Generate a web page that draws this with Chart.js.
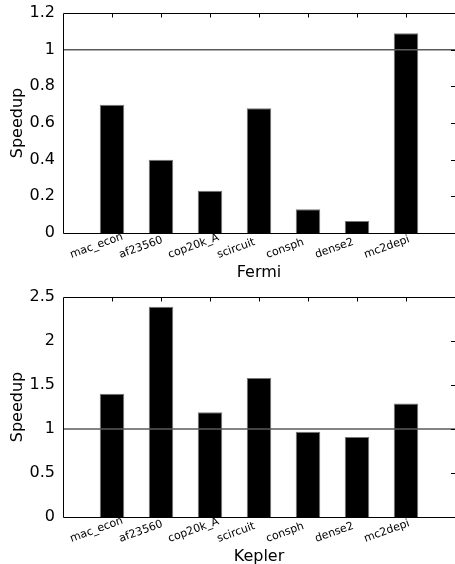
<!DOCTYPE html>
<html>
<head>
<meta charset="utf-8">
<script src="https://cdn.jsdelivr.net/npm/chart.js@4.4.1/dist/chart.umd.min.js"></script>
<style>
  html, body { margin: 0; padding: 0; background: #fff; overflow: hidden; width: 455px; height: 564px; }
  canvas { position: absolute; left: 0; display: block; }
  #c1 { top: 0; }
  #c2 { top: 282px; }
</style>
</head>
<body>
<canvas id="c1" width="455" height="282"></canvas>
<canvas id="c2" width="455" height="282"></canvas>
<script>
// ---- data ----
const categories = ['mac_econ', 'af23560', 'cop20k_A', 'scircuit', 'consph', 'dense2', 'mc2depi'];
const fermiSpeedup = [0.70, 0.40, 0.23, 0.68, 0.13, 0.065, 1.09];
const keplerSpeedup = [1.40, 2.39, 1.19, 1.58, 0.97, 0.91, 1.29];
const fermiYTicks = [0, 0.2, 0.4, 0.6, 0.8, 1, 1.2];
const keplerYTicks = [0, 0.5, 1, 1.5, 2, 2.5];
const referenceSpeedup = 1;
const yTitle = 'Speedup';
const fermiTitle = 'Fermi';
const keplerTitle = 'Kepler';

Chart.defaults.font.family = "'DejaVu Sans', sans-serif";
Chart.defaults.color = '#000';

// one empty slot on each side so the axis spans one category width beyond the bars
const paddedLabels = [''].concat(categories, ['']);

const framePlugin = {
  id: 'framePlugin',
  afterDatasetsDraw(chart, args, opts) {
    const ctx = chart.ctx;
    const a = chart.chartArea;
    const xs = chart.scales.x, ys = chart.scales.y;
    ctx.save();
    // reference line
    const yr = ys.getPixelForValue(opts.ref);
    ctx.strokeStyle = '#5a5a5a';
    ctx.lineWidth = 1.5;
    ctx.beginPath();
    ctx.moveTo(a.left, yr);
    ctx.lineTo(a.right, yr);
    ctx.stroke();
    // frame
    ctx.strokeStyle = '#000';
    ctx.lineWidth = 1;
    const L = Math.round(a.left) + 0.5, T = Math.round(a.top) + 0.5, B = Math.round(a.bottom) + 0.5;
    ctx.beginPath();
    ctx.moveTo(L, T); ctx.lineTo(a.right, T);
    ctx.moveTo(L, T); ctx.lineTo(L, B);
    ctx.moveTo(L, B); ctx.lineTo(a.right, B);
    ctx.moveTo(a.right + 0.5, T); ctx.lineTo(a.right + 0.5, B);
    ctx.stroke();
    // inward ticks on top (categories) and right (y values)
    ctx.beginPath();
    for (let i = 1; i <= categories.length; i++) {
      const x = Math.round(xs.getPixelForValue(i)) + 0.5;
      ctx.moveTo(x, T); ctx.lineTo(x, T + 4);
    }
    ys.ticks.forEach(t => {
      const y = Math.round(ys.getPixelForValue(t.value)) + 0.5;
      ctx.moveTo(a.right, y); ctx.lineTo(a.right - 4, y);
    });
    ctx.stroke();
    // category labels, rotated
    ctx.fillStyle = '#000';
    ctx.font = "11px 'DejaVu Sans', sans-serif";
    ctx.textAlign = 'left';
    ctx.textBaseline = 'alphabetic';
    for (let i = 1; i <= categories.length; i++) {
      const x = xs.getPixelForValue(i) - 40.5;
      const y = a.bottom + 25;
      ctx.save();
      ctx.translate(x, y);
      ctx.rotate(-20 * Math.PI / 180);
      ctx.fillText(categories[i - 1], 0, 0);
      ctx.restore();
    }
    ctx.restore();
  }
};

function makeChart(id, values, yTicks, title, padTop, xHeight, titleLineHeight) {
  const data = [null].concat(values, [null]);
  return new Chart(document.getElementById(id), {
    type: 'bar',
    data: {
      labels: paddedLabels,
      datasets: [{
        data: data,
        backgroundColor: '#000',
        borderColor: '#777',
        borderWidth: 1,
        borderSkipped: 'bottom',
        categoryPercentage: 1.0,
        barPercentage: 0.5
      }]
    },
    options: {
      responsive: false,
      animation: false,
      devicePixelRatio: 1,
      layout: { padding: { top: padTop, right: 0, left: 0, bottom: 0 } },
      plugins: {
        legend: { display: false },
        tooltip: { enabled: false },
        framePlugin: { ref: referenceSpeedup }
      },
      scales: {
        x: {
          type: 'category',
          offset: false,
          grid: { display: false, drawTicks: false },
          border: { display: false },
          ticks: { display: false, autoSkip: false },
          title: {
            display: true,
            text: title,
            color: '#000',
            font: { size: 16, lineHeight: titleLineHeight },
            padding: { top: 0, bottom: 0 }
          },
          afterFit(scale) { scale.height = xHeight; scale.paddingLeft = 0; scale.paddingRight = 0; }
        },
        y: {
          min: yTicks[0],
          max: yTicks[yTicks.length - 1],
          afterBuildTicks(scale) { scale.ticks = yTicks.map(v => ({ value: v })); },
          grid: { display: false, drawTicks: false },
          border: { display: false },
          ticks: { color: '#000', font: { size: 16 }, padding: 8, callback: v => String(v) },
          title: {
            display: true,
            text: yTitle,
            color: '#000',
            font: { size: 16, lineHeight: 1.2 },
            padding: { top: 8, bottom: 0 }
          },
          afterFit(scale) { scale.width = 63; scale.paddingTop = 0; scale.paddingBottom = 0; }
        }
      }
    },
    plugins: [framePlugin]
  });
}

makeChart('c1', fermiSpeedup, fermiYTicks, fermiTitle, 13, 49, 1.2);
makeChart('c2', keplerSpeedup, keplerYTicks, keplerTitle, 15, 47, 0.875);
</script>
</body>
</html>
